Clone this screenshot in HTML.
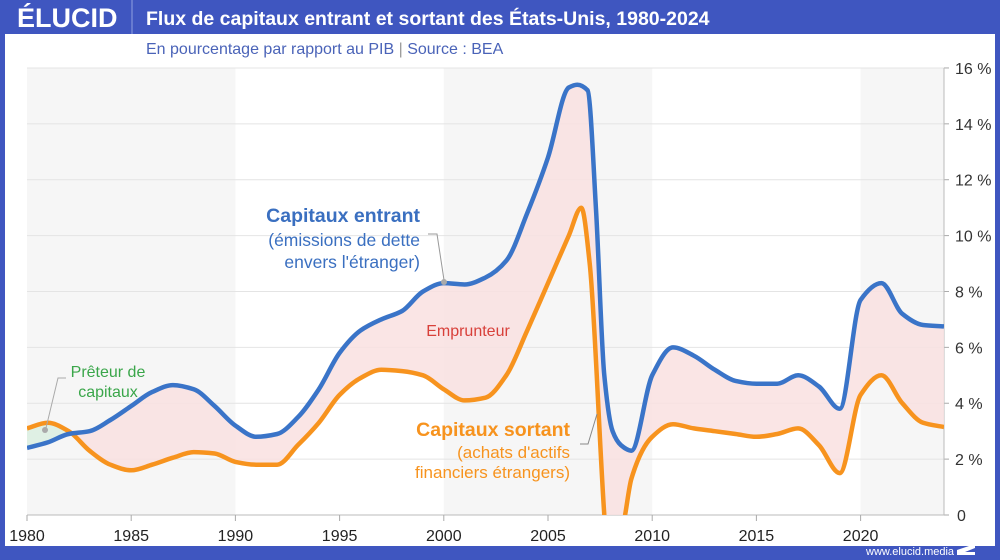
<!DOCTYPE html>
<html><head><meta charset="utf-8"><style>
html,body{margin:0;padding:0;width:1000px;height:560px;overflow:hidden;background:#fff;font-family:"Liberation Sans",sans-serif}
svg{display:block}
</style></head><body>
<svg id="s" width="1000" height="560" xmlns="http://www.w3.org/2000/svg" font-family="Liberation Sans, sans-serif">
<rect x="0" y="0" width="1000" height="560" fill="#3f56c0"/>
<rect x="5" y="34" width="990" height="512" fill="#fff"/>
<text x="17" y="27" fill="#fff" font-size="27" font-weight="bold">ÉLUCID</text>
<line x1="132" y1="0" x2="132" y2="34" stroke="#8fa0e0" stroke-width="1"/>
<text x="146" y="25" fill="#fff" font-size="19.5" font-weight="bold">Flux de capitaux entrant et sortant des États-Unis, 1980-2024</text>
<text x="146" y="54" fill="#4a63b8" font-size="16">En pourcentage par rapport au PIB  <tspan fill="#999">|</tspan>  Source : BEA</text>
<g id="bg"></g>
<g id="chart"></g>
<text x="866" y="555" fill="#fff" font-size="11">www.elucid.media</text>
<polygon points="957,550 975,544 975,548 965,552 975,552 975,555 957,555" fill="#fff"/>
</svg>
<script>
const X=y=>27+(y-1980)*20.84, Y=v=>515-v*27.94;
const blue=[[1980,2.4],[1981,2.6],[1982,2.9],[1983,3.0],[1984,3.4],[1985,3.9],[1986,4.4],[1987,4.65],[1988,4.5],[1989,3.9],[1990,3.2],[1991,2.8],[1992,2.9],[1993,3.5],[1994,4.5],[1995,5.8],[1996,6.6],[1997,7.0],[1998,7.3],[1999,8.0],[2000,8.3],[2001,8.25],[2002,8.5],[2003,9.1],[2004,10.8],[2005,12.8],[2006,15.3],[2006.4,15.4],[2006.9,15.2],[2007.3,11],[2007.7,5],[2008.1,3.0],[2008.5,2.5],[2009,2.3],[2010,5.0],[2011,6.0],[2012,5.7],[2013,5.2],[2014,4.8],[2015,4.7],[2016,4.7],[2017,5.0],[2018,4.6],[2019,3.8],[2020,7.7],[2021,8.3],[2022,7.2],[2023,6.8],[2024,6.75]];
const orng=[[1980,3.1],[1981,3.3],[1982,3.0],[1983,2.3],[1984,1.8],[1985,1.6],[1986,1.8],[1987,2.05],[1988,2.25],[1989,2.2],[1990,1.9],[1991,1.8],[1992,1.8],[1993,2.5],[1994,3.3],[1995,4.3],[1996,4.9],[1997,5.2],[1998,5.15],[1999,5.0],[2000,4.5],[2001,4.1],[2002,4.2],[2003,5.0],[2004,6.6],[2005,8.3],[2006,10.0],[2006.6,11.0],[2007,9.0],[2007.7,0],[2008,-3],[2008.7,0],[2009,1.3],[2010,2.8],[2011,3.25],[2012,3.1],[2013,3.0],[2014,2.9],[2015,2.8],[2016,2.9],[2017,3.1],[2018,2.5],[2019,1.5],[2020,4.3],[2021,5.0],[2022,4.0],[2023,3.3],[2024,3.15]];
function path(d,rev){
 const n=d.length,x=d.map(a=>X(a[0])),y=d.map(a=>Y(a[1]));
 const m=[],dl=[];
 for(let i=0;i<n-1;i++)dl[i]=(y[i+1]-y[i])/(x[i+1]-x[i]);
 for(let i=0;i<n;i++){
  if(i==0)m[i]=dl[0];else if(i==n-1)m[i]=dl[n-2];
  else if(dl[i-1]*dl[i]<=0)m[i]=0;
  else{const h0=x[i]-x[i-1],h1=x[i+1]-x[i];m[i]=3*(h0+h1)/((2*h1+h0)/dl[i-1]+(h1+2*h0)/dl[i]);}
 }
 let segs=[];
 for(let i=0;i<n-1;i++){const h=(x[i+1]-x[i])/3;
  segs.push([x[i],y[i],x[i]+h,y[i]+m[i]*h,x[i+1]-h,y[i+1]-m[i+1]*h,x[i+1],y[i+1]]);}
 const f=v=>v.toFixed(1);
 if(!rev){let s=`M${f(x[0])},${f(y[0])}`;segs.forEach(g=>s+=` C${f(g[2])},${f(g[3])} ${f(g[4])},${f(g[5])} ${f(g[6])},${f(g[7])}`);return s;}
 let s=`L${f(x[n-1])},${f(y[n-1])}`;segs.reverse().forEach(g=>s+=` C${f(g[4])},${f(g[5])} ${f(g[2])},${f(g[3])} ${f(g[0])},${f(g[1])}`);return s;
}
let bg="";
[[1980,1990],[2000,2010],[2020,2024]].forEach(r=>bg+=`<rect x="${X(r[0])}" y="68" width="${X(r[1])-X(r[0])}" height="447" fill="#f6f6f6"/>`);
for(let v=2;v<=16;v+=2)bg+=`<line x1="27" x2="944" y1="${Y(v)}" y2="${Y(v)}" stroke="#e4e4e4"/>`;
for(let v=0;v<=16;v+=2){bg+=`<line x1="944" x2="949" y1="${Y(v)}" y2="${Y(v)}" stroke="#aaa"/><text x="${v?955:957}" y="${Y(v)+6}" font-size="16" fill="#333">${v?v+" %":"0"}</text>`;}
bg+=`<line x1="944" x2="944" y1="68" y2="515" stroke="#bbb"/><line x1="27" x2="944" y1="515" y2="515" stroke="#bbb"/>`;
for(let y=1980;y<=2020;y+=5)bg+=`<line x1="${X(y)}" x2="${X(y)}" y1="515" y2="521" stroke="#aaa"/><text x="${X(y)}" y="541" text-anchor="middle" font-size="16" fill="#222">${y}</text>`;
document.getElementById("bg").innerHTML=bg;
const area=path(blue)+" "+path(orng,true)+"Z";const cx=X(1982.4);
let c=`<defs><clipPath id="pl"><rect x="27" y="60" width="917" height="455"/></clipPath><clipPath id="g"><rect x="0" y="0" width="${cx}" height="560"/></clipPath><clipPath id="r"><rect x="${cx}" y="0" width="1000" height="560"/></clipPath></defs>
<g clip-path="url(#pl)"><path d="${area}" fill="#f9e1e1" fill-opacity="0.85" clip-path="url(#r)"/><path d="${area}" fill="#dff0e4" clip-path="url(#g)"/>
<path d="${path(orng)}" fill="none" stroke="#f7931e" stroke-width="4.5"/><path d="${path(blue)}" fill="none" stroke="#3a74c8" stroke-width="4.5"/></g>
<text x="420" y="222" text-anchor="end" font-size="19.5" font-weight="bold" fill="#3a6fc0">Capitaux entrant</text>
<text x="420" y="246" text-anchor="end" font-size="17.5" fill="#3a6fc0">(émissions de dette</text>
<text x="420" y="268" text-anchor="end" font-size="17.5" fill="#3a6fc0">envers l'étranger)</text>
<polyline points="428,234 437,234 444,280" fill="none" stroke="#999"/><circle cx="444" cy="282" r="3" fill="#aaa"/>
<text x="468" y="336" text-anchor="middle" font-size="16" fill="#d8403a">Emprunteur</text>
<text x="108" y="377" text-anchor="middle" font-size="16" fill="#3aa64a">Prêteur de</text>
<text x="108" y="397" text-anchor="middle" font-size="16" fill="#3aa64a">capitaux</text>
<polyline points="66,378 58,378 46,428" fill="none" stroke="#aaa"/><circle cx="45" cy="430" r="3" fill="#aaa"/>
<text x="570" y="436" text-anchor="end" font-size="19.5" font-weight="bold" fill="#f7931e">Capitaux sortant</text>
<text x="570" y="458" text-anchor="end" font-size="17" fill="#f7931e">(achats d'actifs</text>
<text x="570" y="478" text-anchor="end" font-size="17" fill="#f7931e">financiers étrangers)</text>
<polyline points="580,444 588,444 597,414" fill="none" stroke="#888"/>`;
document.getElementById("chart").innerHTML=c;
</script>
</body></html>
